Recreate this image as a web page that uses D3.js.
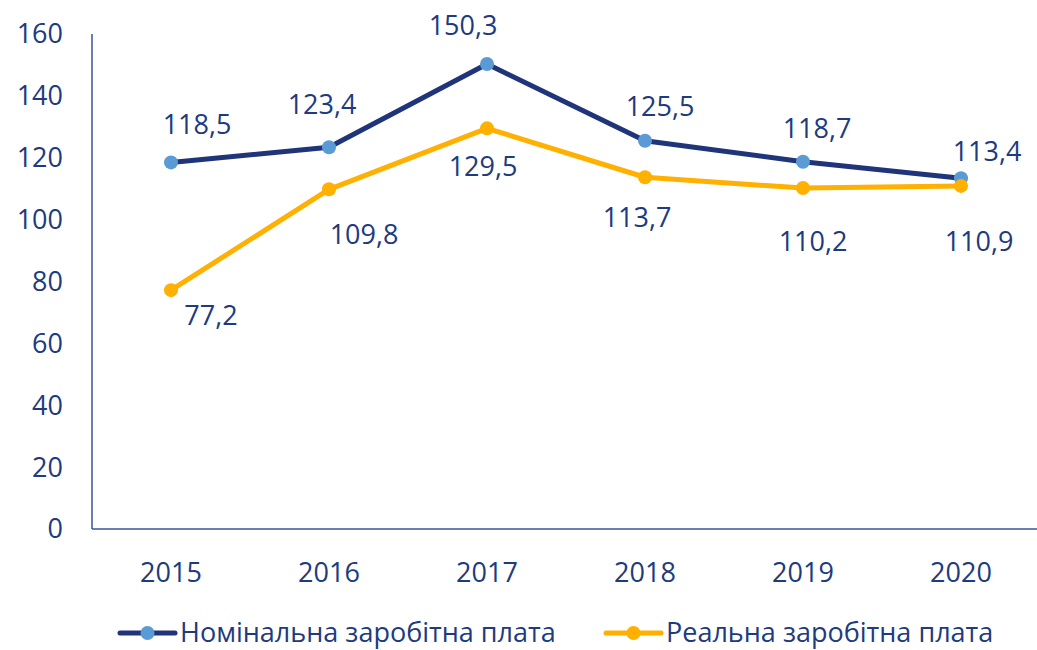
<!DOCTYPE html>
<html>
<head>
<meta charset="utf-8">
<script src="https://cdn.jsdelivr.net/npm/d3@7"></script>
<style>
  html, body { margin: 0; padding: 0; background: #fff; }
  svg { display: block; font-family: "Open Sans", "Liberation Sans", sans-serif; }
</style>
</head>
<body>
<div id="chart"></div>
<script>
const years = ["2015", "2016", "2017", "2018", "2019", "2020"]
const nominal = [118.5, 123.4, 150.3, 125.5, 118.7, 113.4]
const real = [77.2, 109.8, 129.5, 113.7, 110.2, 110.9]
const yTicks = [0, 20, 40, 60, 80, 100, 120, 140, 160]
const seriesNames = ["Номінальна заробітна плата", "Реальна заробітна плата"]

// hand-placed label offsets (dx, dy to baseline), as in the original
const nominalLabelOffsets = [[26, -28], [-7, -33], [-24, -29], [15, -25], [14, -24], [26, -17]]
const realLabelOffsets = [[40, 35], [35, 55], [-4, 48], [-8, 50], [10, 63], [18, 65]]

const width = 1037, height = 650
const fontSize = 27
const textColor = "#203a7e"
const axisColor = "#3a559c"

const svg = d3.select("#chart").append("svg")
  .attr("width", width).attr("height", height)

const x = d3.scalePoint().domain(years).range([92, 1040]).padding(0.5)
const y = d3.scaleLinear().domain([0, 160]).range([529, 34])

// axes
svg.append("line")
  .attr("x1", 92).attr("x2", 92).attr("y1", y(160)).attr("y2", y(0))
  .attr("stroke", axisColor).attr("stroke-width", 1.5)
svg.append("line")
  .attr("x1", 92).attr("x2", width).attr("y1", y(0)).attr("y2", y(0))
  .attr("stroke", axisColor).attr("stroke-width", 1.5)

svg.append("g").selectAll("text")
  .data(yTicks)
  .join("text")
  .attr("x", 63).attr("y", d => y(d))
  .attr("dy", "0.35em")
  .attr("text-anchor", "end")
  .attr("font-size", fontSize)
  .attr("fill", textColor)
  .text(d => d)

svg.append("g").selectAll("text")
  .data(years)
  .join("text")
  .attr("x", d => x(d)).attr("y", 582)
  .attr("text-anchor", "middle")
  .attr("font-size", fontSize)
  .attr("fill", textColor)
  .text(d => d)

const fmt = v => d3.format(".1f")(v).replace(".", ",")

function drawSeries(values, lineColor, markerColor, offsets) {
  const line = d3.line().x((d, i) => x(years[i])).y(d => y(d))
  svg.append("path")
    .datum(values)
    .attr("d", line)
    .attr("fill", "none")
    .attr("stroke", lineColor)
    .attr("stroke-width", 5)
    .attr("stroke-linejoin", "round")
    .attr("stroke-linecap", "round")

  svg.append("g").selectAll("circle")
    .data(values)
    .join("circle")
    .attr("cx", (d, i) => x(years[i]))
    .attr("cy", d => y(d))
    .attr("r", 7)
    .attr("fill", markerColor)

  svg.append("g").selectAll("text")
    .data(values)
    .join("text")
    .attr("x", (d, i) => x(years[i]) + offsets[i][0])
    .attr("y", (d, i) => y(d) + offsets[i][1])
    .attr("text-anchor", "middle")
    .attr("font-size", fontSize)
    .attr("fill", textColor)
    .text(d => fmt(d))
}

drawSeries(nominal, "#1f3479", "#5b9bd5", nominalLabelOffsets)
drawSeries(real, "#ffb000", "#ffb000", realLabelOffsets)

// legend
const legendItems = [
  { name: seriesNames[0], line: "#1f3479", marker: "#5b9bd5", x: 120 },
  { name: seriesNames[1], line: "#ffb000", marker: "#ffb000", x: 606 }
]
const lg = svg.append("g").selectAll("g")
  .data(legendItems)
  .join("g")
  .attr("transform", d => `translate(${d.x},633)`)
lg.append("line")
  .attr("x1", 0).attr("x2", 55)
  .attr("stroke", d => d.line).attr("stroke-width", 5)
  .attr("stroke-linecap", "round")
lg.append("circle")
  .attr("cx", 27.5).attr("r", 7)
  .attr("fill", d => d.marker)
lg.append("text")
  .attr("x", 60).attr("dy", "0.35em")
  .attr("font-size", fontSize)
  .attr("fill", textColor)
  .text(d => d.name)
</script>
</body>
</html>
